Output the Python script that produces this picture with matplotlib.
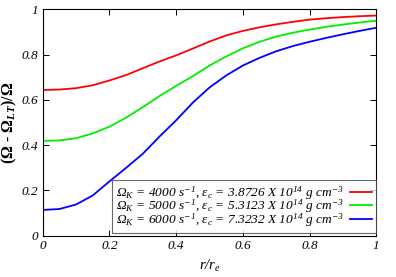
import numpy as np
import matplotlib
matplotlib.use("Agg")
import matplotlib.pyplot as plt

plt.rcParams["font.family"] = ["Liberation Serif", "DejaVu Serif"]
plt.rcParams["font.style"] = "italic"
plt.rcParams["mathtext.fontset"] = "custom"
plt.rcParams["mathtext.rm"] = "Liberation Serif:italic"
plt.rcParams["mathtext.it"] = "Liberation Serif:italic"
plt.rcParams["mathtext.sf"] = "Liberation Serif"
plt.rcParams["mathtext.bf"] = "Liberation Serif:bold:italic"

# radial position r/r_e
r = [0.00, 0.05, 0.10, 0.15, 0.20, 0.25, 0.30, 0.35, 0.40, 0.45, 0.50,
     0.55, 0.60, 0.65, 0.70, 0.75, 0.80, 0.85, 0.90, 0.95, 1.00]

# (Omega - Omega_LT)/Omega for the three stars
om_4000 = [0.644, 0.646, 0.652, 0.665, 0.686, 0.710, 0.740, 0.770, 0.797, 0.827, 0.858,
           0.885, 0.905, 0.921, 0.934, 0.945, 0.955, 0.961, 0.966, 0.970, 0.973]
om_5000 = [0.419, 0.421, 0.431, 0.452, 0.482, 0.522, 0.568, 0.617, 0.662, 0.705, 0.752,
           0.792, 0.828, 0.857, 0.880, 0.897, 0.911, 0.923, 0.933, 0.942, 0.950]
om_6000 = [0.114, 0.118, 0.138, 0.178, 0.240, 0.300, 0.362, 0.438, 0.510, 0.588, 0.655,
           0.708, 0.752, 0.786, 0.815, 0.838, 0.857, 0.874, 0.890, 0.905, 0.919]

labels = [
    r"$\mathsf{\Omega}_K$ = 4000 $s^{-1}$, $\mathsf{\varepsilon}_c$ = 3.8726 X $10^{14}$ g $cm^{-3}$",
    r"$\mathsf{\Omega}_K$ = 5000 $s^{-1}$, $\mathsf{\varepsilon}_c$ = 5.3123 X $10^{14}$ g $cm^{-3}$",
    r"$\mathsf{\Omega}_K$ = 6000 $s^{-1}$, $\mathsf{\varepsilon}_c$ = 7.3232 X $10^{14}$ g $cm^{-3}$",
]
colors = ["#ff0000", "#00ee00", "#0000ff"]

fig = plt.figure(figsize=(3.96, 2.77), dpi=100)
ax = fig.add_axes([0.108, 0.149, 0.842, 0.817])

for ys, lab, c in zip([om_4000, om_5000, om_6000], labels, colors):
    ax.plot(r, ys, color=c, lw=1.3, label=lab)

ax.set_xlim(0, 1)
ax.set_ylim(0, 1)
ax.set_xticks([0, 0.2, 0.4, 0.6, 0.8, 1])
ax.set_xticklabels(["0", "0.2", "0.4", "0.6", "0.8", "1"])
ax.set_yticks([0, 0.2, 0.4, 0.6, 0.8, 1])
ax.set_yticklabels(["0", "0.2", "0.4", "0.6", "0.8", "1"])
ax.tick_params(direction="in", length=4, width=0.7, top=True, right=True,
               labelsize=9.5, pad=3)
for s in ax.spines.values():
    s.set_linewidth(0.8)

ax.set_xlabel(r"$r/r_e$", fontsize=10.5, labelpad=4)
ax.set_ylabel("(Ω - Ω$_{\\mathbf{LT}}$)/Ω", fontsize=11.5, fontweight="bold",
              fontstyle="normal")
ax.yaxis.set_label_coords(-0.072, 0.50)

leg = ax.legend(loc="lower right", bbox_to_anchor=(1.0, 0.012), borderaxespad=0,
                fontsize=9.6, markerfirst=False, frameon=True, fancybox=False,
                handlelength=1.7, handletextpad=0.4, labelspacing=-0.3,
                borderpad=0.3, edgecolor="#444444")
leg.get_frame().set_linewidth(0.8)

fig.savefig("out.png", dpi=100)
